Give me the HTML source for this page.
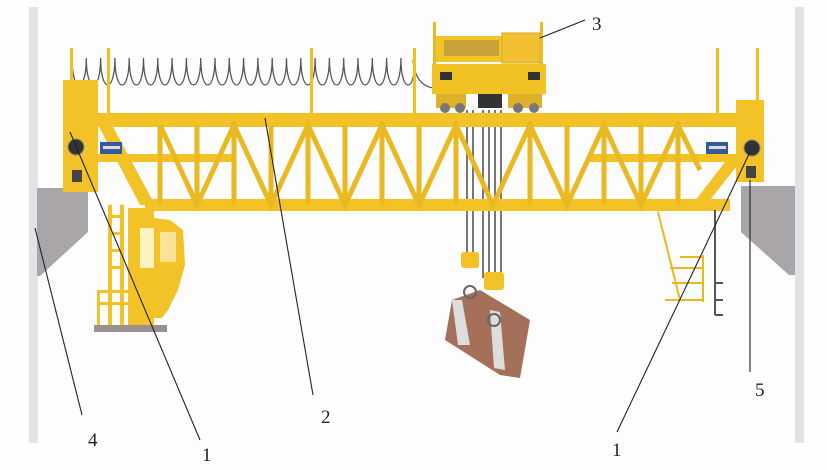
<!DOCTYPE html>
<html><head><meta charset="utf-8"><style>
html,body{margin:0;padding:0;background:#fff;}
svg{display:block}
text{font-family:"Liberation Serif",serif;font-size:19px;fill:#222}
</style></head><body>
<svg width="827" height="470" viewBox="0 0 827 470" xmlns="http://www.w3.org/2000/svg">
<rect width="827" height="470" fill="#fdfdfd"/>
<!-- walls -->
<rect x="29" y="7" width="9" height="436" fill="#e2e3e8"/>
<rect x="795" y="7" width="9" height="436" fill="#e2e3e8"/>
<polygon points="37,188 88,188 88,232 40,276 37,276" fill="#a9a5a8"/>
<polygon points="741,186 795,186 795,275 789,275 741,232" fill="#a9a5a8"/>
<!-- festoon -->
<path d="M72,58 c0,36 14.3,36 14.3,0 c0,36 14.3,36 14.3,0 c0,36 14.3,36 14.3,0 c0,36 14.3,36 14.3,0 c0,36 14.3,36 14.3,0 c0,36 14.3,36 14.3,0 c0,36 14.3,36 14.3,0 c0,36 14.3,36 14.3,0 c0,36 14.3,36 14.3,0 c0,36 14.3,36 14.3,0 c0,36 14.3,36 14.3,0 c0,36 14.3,36 14.3,0 c0,36 14.3,36 14.3,0 c0,36 14.3,36 14.3,0 c0,36 14.3,36 14.3,0 c0,36 14.3,36 14.3,0 c0,36 14.3,36 14.3,0 c0,36 14.3,36 14.3,0 c0,36 14.3,36 14.3,0 c0,36 14.3,36 14.3,0 c0,36 14.3,36 14.3,0 c0,36 14.3,36 14.3,0 c0,36 14.3,36 14.3,0 c0,36 14.3,36 14.3,0" fill="none" stroke="#555" stroke-width="1.3"/>
<path d="M413,60 q2,25 20,28" fill="none" stroke="#555" stroke-width="1.3"/>
<g fill="#f0c020">
<rect x="70" y="48" width="3" height="70"/><rect x="107" y="48" width="3" height="70"/>
<rect x="310" y="48" width="3" height="70"/><rect x="413" y="48" width="3" height="70"/>
<rect x="716" y="48" width="3" height="70"/><rect x="756" y="48" width="3" height="55"/>
</g>
<!-- trolley -->
<g>
<rect x="433" y="22" width="3" height="45" fill="#eab820"/><rect x="540" y="22" width="3" height="45" fill="#eab820"/>
<rect x="436" y="36" width="106" height="26" fill="#f3c42a"/>
<rect x="444" y="40" width="55" height="16" fill="#c9a23a"/>
<rect x="502" y="33" width="38" height="30" fill="#f0c030" stroke="#d9a818" stroke-width="1"/>
<rect x="432" y="64" width="114" height="30" fill="#f2c124"/>
<rect x="440" y="72" width="12" height="8" fill="#333"/><rect x="528" y="72" width="12" height="8" fill="#333"/>
<rect x="478" y="94" width="24" height="14" fill="#333"/>
<rect x="436" y="94" width="30" height="14" fill="#ddb22a"/><rect x="508" y="94" width="34" height="14" fill="#ddb22a"/>
<circle cx="445" cy="108" r="5" fill="#777"/><circle cx="460" cy="108" r="5" fill="#777"/>
<circle cx="518" cy="108" r="5" fill="#777"/><circle cx="534" cy="108" r="5" fill="#777"/>
</g>
<!-- ropes -->
<g stroke="#777" stroke-width="2">
<line x1="467" y1="110" x2="467" y2="258"/><line x1="473" y1="110" x2="473" y2="258"/>
<line x1="483" y1="110" x2="483" y2="278"/><line x1="489" y1="110" x2="489" y2="278"/>
<line x1="495" y1="110" x2="495" y2="278"/><line x1="501" y1="110" x2="501" y2="278"/>
</g>
<!-- girder -->
<g fill="#f2c226">
<rect x="63" y="80" width="35" height="112"/>
<rect x="736" y="100" width="28" height="82"/>
<rect x="63" y="113" width="700" height="14"/>
<rect x="145" y="199" width="585" height="12"/>
<rect x="95" y="154" width="140" height="8"/>
<rect x="590" y="154" width="148" height="8"/>
<polygon points="98,125 112,125 155,205 140,205"/>
<polygon points="728,158 740,162 702,210 688,210"/>
</g>
<g stroke="#eab820" stroke-width="5">
<line x1="160" y1="125" x2="160" y2="205"/><line x1="197" y1="125" x2="197" y2="205"/>
<line x1="234" y1="125" x2="234" y2="205"/><line x1="271" y1="125" x2="271" y2="205"/>
<line x1="308" y1="125" x2="308" y2="205"/><line x1="345" y1="125" x2="345" y2="205"/>
<line x1="382" y1="125" x2="382" y2="205"/><line x1="419" y1="125" x2="419" y2="205"/>
<line x1="456" y1="125" x2="456" y2="205"/><line x1="530" y1="125" x2="530" y2="205"/>
<line x1="567" y1="125" x2="567" y2="205"/><line x1="604" y1="125" x2="604" y2="205"/>
<line x1="641" y1="125" x2="641" y2="205"/><line x1="678" y1="125" x2="678" y2="205"/>
<polyline fill="none" points="160,125 197,205 234,125 271,205 308,125 345,205 382,125 419,205 456,125 493,205 530,125 567,205 604,125 641,205 678,125 700,170"/>
</g>
<!-- end truck details -->
<circle cx="76" cy="147" r="8" fill="#333" stroke="#888"/>
<circle cx="752" cy="148" r="8" fill="#333" stroke="#888"/>
<rect x="100" y="142" width="22" height="12" fill="#335a9a"/><rect x="103" y="146" width="17" height="3" fill="#ddd"/>
<rect x="706" y="142" width="22" height="12" fill="#335a9a"/><rect x="709" y="146" width="17" height="3" fill="#ddd"/>
<rect x="72" y="170" width="10" height="12" fill="#444"/><rect x="746" y="166" width="10" height="12" fill="#444"/>
<!-- left cab: ladder + cabin -->
<g fill="#f2c226">
<rect x="108" y="205" width="4" height="120"/><rect x="120" y="205" width="4" height="120"/>
<rect x="108" y="215" width="16" height="3"/><rect x="108" y="232" width="16" height="3"/>
<rect x="108" y="249" width="16" height="3"/><rect x="108" y="266" width="16" height="3"/>
<rect x="128" y="208" width="26" height="117"/>
<polygon points="154,218 170,220 183,230 185,265 178,290 168,310 162,318 154,318"/>
<rect x="97" y="290" width="65" height="3"/><rect x="97" y="302" width="65" height="3"/>
<rect x="97" y="290" width="3" height="36"/>
</g>
<rect x="140" y="228" width="14" height="40" fill="#fff3c0"/>
<rect x="160" y="232" width="16" height="30" fill="#fbe29a"/>
<rect x="94" y="325" width="73" height="7" fill="#9a9090"/>
<!-- right ladder -->
<g stroke="#eab820" stroke-width="2" fill="none">
<line x1="658" y1="212" x2="680" y2="300"/><line x1="680" y1="257" x2="703" y2="257"/>
<line x1="670" y1="268" x2="703" y2="268"/><line x1="672" y1="283" x2="703" y2="283"/>
<line x1="665" y1="300" x2="703" y2="300"/><line x1="703" y1="255" x2="703" y2="302"/>
</g>
<g stroke="#555" stroke-width="2"><line x1="715" y1="210" x2="715" y2="315"/><line x1="715" y1="283" x2="723" y2="283"/><line x1="715" y1="300" x2="723" y2="300"/><line x1="715" y1="315" x2="723" y2="315"/></g>
<!-- grab -->
<polygon points="452,300 480,290 530,320 520,378 500,375 445,340" fill="#a5705a"/>
<polygon points="452,300 462,300 470,345 458,345" fill="#ddd"/>
<polygon points="490,310 500,312 505,370 494,368" fill="#ddd"/>
<rect x="461" y="252" width="18" height="16" rx="3" fill="#f2c226"/>
<rect x="484" y="272" width="20" height="18" rx="3" fill="#f2c226"/>
<circle cx="470" cy="292" r="6" fill="none" stroke="#666" stroke-width="2"/>
<circle cx="494" cy="320" r="6" fill="none" stroke="#666" stroke-width="2"/>
<!-- leaders -->
<g stroke="#222" stroke-width="1.1">
<line x1="540" y1="38" x2="585" y2="20"/>
<line x1="265" y1="118" x2="313" y2="395"/>
<line x1="35" y1="228" x2="82" y2="415"/>
<line x1="70" y1="132" x2="200" y2="440"/>
<line x1="750" y1="152" x2="617" y2="432"/>
<line x1="750" y1="180" x2="750" y2="372"/>
</g>
<text x="592" y="30">3</text>
<text x="321" y="423">2</text>
<text x="88" y="446">4</text>
<text x="202" y="461">1</text>
<text x="612" y="456">1</text>
<text x="755" y="396">5</text>
</svg>
</body></html>
